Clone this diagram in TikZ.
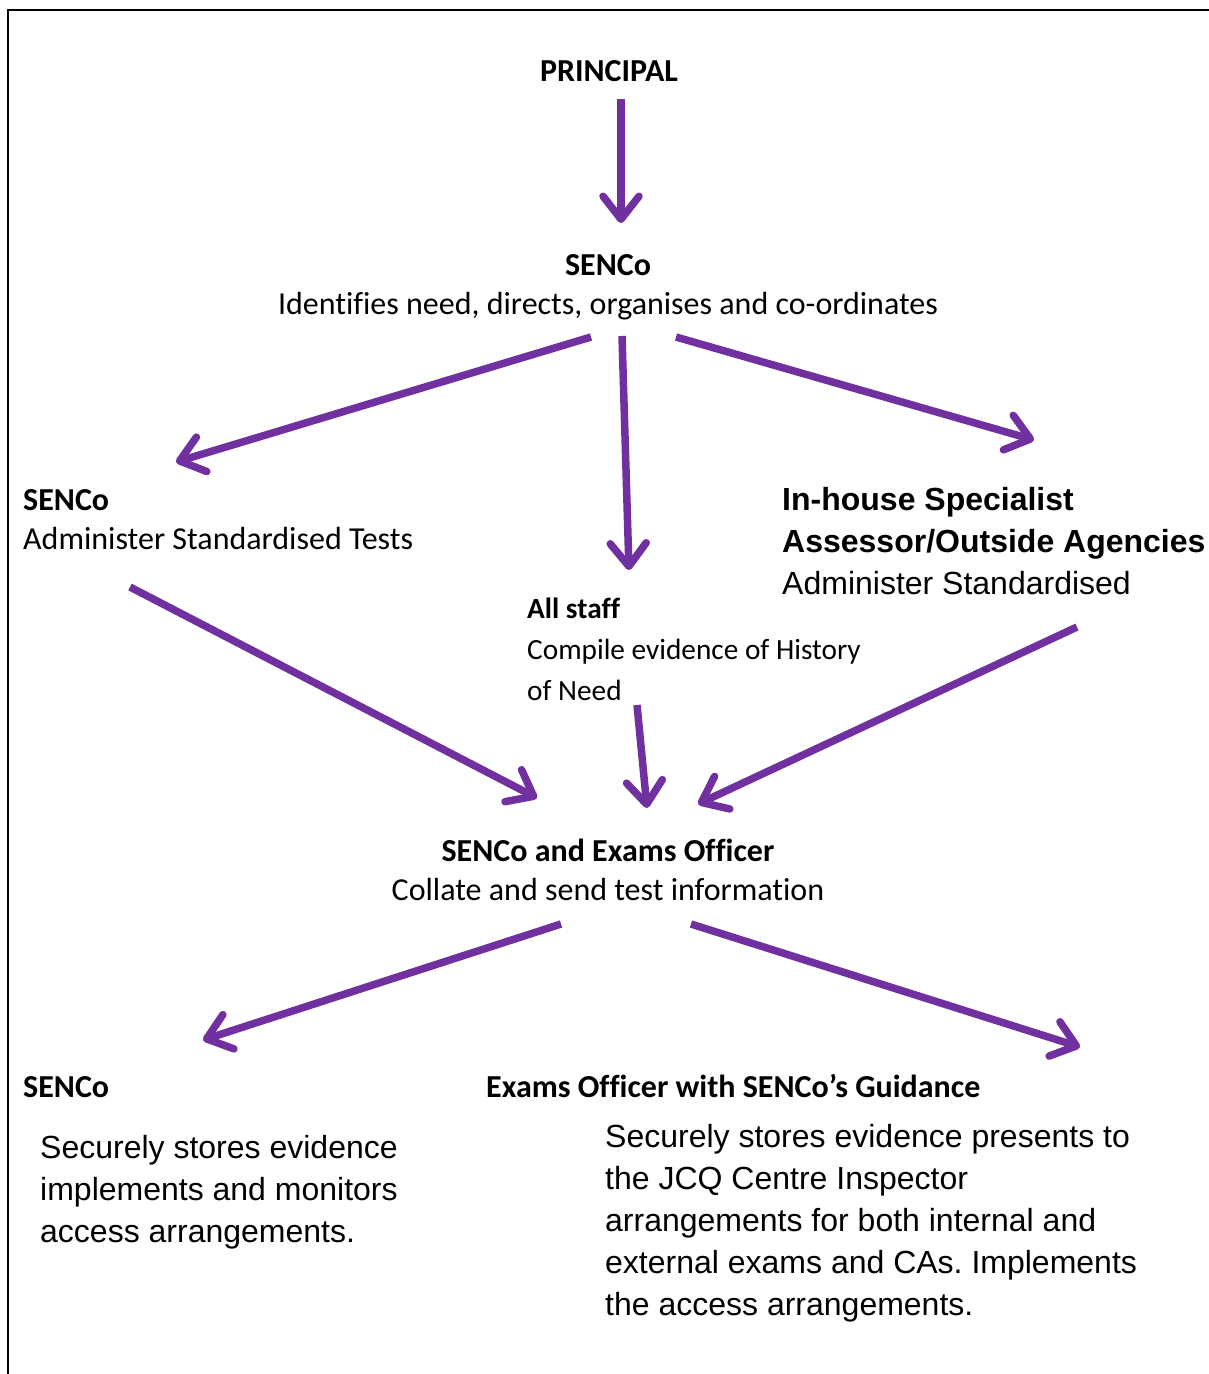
\documentclass[tikz,border=0pt]{standalone}
\usepackage{fontspec}
\setmainfont{Carlito}[Ligatures=NoCommon]
\newfontfamily\arialfont{Liberation Sans}
\usepackage{xcolor}
\usetikzlibrary{arrows.meta,positioning}
\definecolor{senpurple}{HTML}{7030A0}
\frenchspacing

\begin{document}
\begin{tikzpicture}[
    x=1pt, y=-1pt,
    arrow/.style={senpurple, line width=7.5pt, -{Straight Barb[length=23pt,width=36pt,line cap=round,line join=round]}},
    head/.style={inner sep=0pt, font=\fontsize{32}{39}\selectfont\bfseries},
    calib/.style={inner sep=0pt, align=left, font=\fontsize{32}{39}\selectfont},
    arial/.style={inner sep=0pt, align=left, font=\arialfont\fontsize{32}{42}\selectfont}
  ]
    \useasboundingbox (0,0) rectangle (1209,1374);

    % Page frame (top and left edges)
    \draw[line width=2pt] (8,1374) -- (8,10) -- (1209,10);

    % Text blocks (base anchor = last line)
    \node[head, anchor=base] (principal) at (609,81) {PRINCIPAL};
    \node[calib, align=center, anchor=base] (senco) at (608,314) {\textbf{SENCo}\\Identifies need, directs, organises and co-ordinates};
    \node[calib, anchor=base west] (sencotests) at (23,549) {\textbf{SENCo}\\Administer Standardised Tests};
    \node[calib, anchor=base west, font=\fontsize{29.3}{41}\selectfont] (allstaff) at (527,700) {\textbf{All staff}\\Compile evidence of History\\of Need};
    \node[arial, anchor=base west] (specialist) at (782,594) {\textbf{In-house Specialist}\\\textbf{Assessor/Outside Agencies}\\Administer Standardised};
    \node[calib, align=center, anchor=base] (sencoexams) at (608,900) {\textbf{SENCo and Exams Officer}\\Collate and send test information};
    \node[head, anchor=base west] (sencobottom) at (23,1097) {SENCo};
    \node[head, anchor=base west] (examsofficer) at (486,1097) {Exams Officer with SENCo’s Guidance};
    \node[arial, anchor=base west] (storeleft) at (40,1242) {Securely stores evidence\\implements and monitors\\access arrangements.};
    \node[arial, anchor=base west] (storeright) at (605,1315) {Securely stores evidence presents to\\the JCQ Centre Inspector\\arrangements for both internal and\\external exams and CAs. Implements\\the access arrangements.};

    % Connector ends
    \coordinate (principalout) at (621,99);
    \coordinate (sencoin) at (621,223);
    \coordinate (sencoleft) at (591,337);
    \coordinate (sencomid) at (622,336);
    \coordinate (sencoright) at (676,337);
    \coordinate (testsin) at (176,462);
    \coordinate (allstaffin) at (629,570);
    \coordinate (specialistin) at (1034,440);
    \coordinate (testsout) at (130,587);
    \coordinate (allstaffout) at (637,705);
    \coordinate (specialistout) at (1077,627);
    \coordinate (examsinleft) at (537,798);
    \coordinate (examsinmid) at (647,808);
    \coordinate (examsinright) at (698,804);
    \coordinate (examsoutleft) at (561,924);
    \coordinate (examsoutright) at (691,924);
    \coordinate (storeleftin) at (203,1040);
    \coordinate (storerightin) at (1080,1047);

    % Connections
    \draw[arrow] (principalout) -- (sencoin);
    \draw[arrow] (sencoleft) -- (testsin);
    \draw[arrow] (sencomid) -- (allstaffin);
    \draw[arrow] (sencoright) -- (specialistin);
    \draw[arrow] (testsout) -- (examsinleft);
    \draw[arrow] (allstaffout) -- (examsinmid);
    \draw[arrow] (specialistout) -- (examsinright);
    \draw[arrow] (examsoutleft) -- (storeleftin);
    \draw[arrow] (examsoutright) -- (storerightin);

  \end{tikzpicture}
\end{document}
